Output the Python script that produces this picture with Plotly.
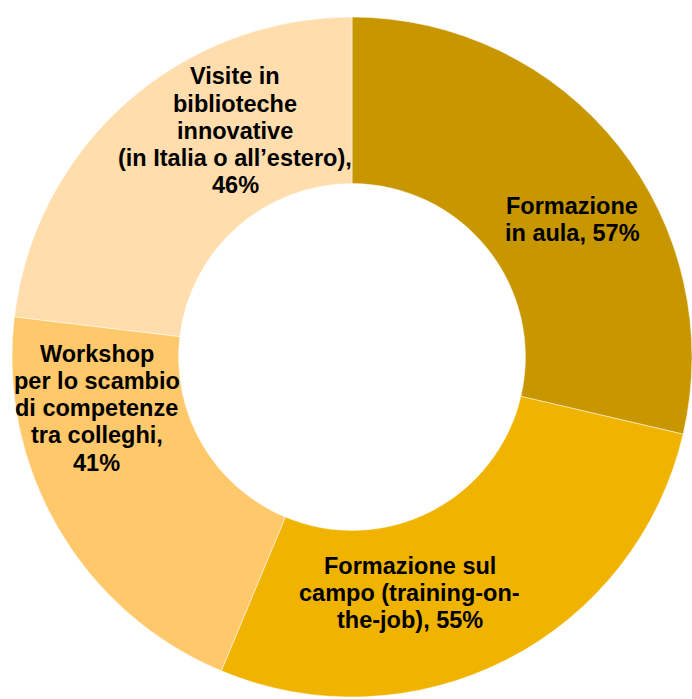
import plotly.graph_objects as go

# Training activities and share of respondents (%)
categories = [
    "Formazione<br>in aula",
    "Formazione sul<br>campo (training-on-<br>the-job)",
    "Workshop<br>per lo scambio<br>di competenze<br>tra colleghi",
    "Visite in<br>biblioteche<br>innovative<br>(in Italia o all’estero)",
]
values = [57, 55, 41, 46]
value_on_new_line = [False, False, True, True]
colors = ["#C89700", "#F0B400", "#FEC86B", "#FFDDAC"]

W, H = 692, 699
# Donut placement in pixels
cx, cy, radius = 352, 357, 340

fig = go.Figure(
    go.Pie(
        labels=[c.replace("<br>", " ") for c in categories],
        values=values,
        sort=False,
        direction="clockwise",
        rotation=0,
        hole=0.51,
        marker=dict(colors=colors, line=dict(color="rgba(255,255,255,0.6)", width=0.8)),
        textinfo="none",
        hoverinfo="skip",
        showlegend=False,
        domain=dict(
            x=[(cx - radius) / W, min(1.0, (cx + radius) / W)],
            y=[1 - (cy + radius) / H, 1 - (cy - radius) / H],
        ),
    )
)

# Label block centres (pixels) and line pitch
label_pos = [(572, 219.5), (410, 593), (96.5, 408.2), (235, 130.8)]
line_pitch = 27.2

for cat, v, newline, (lx, ly) in zip(categories, values, value_on_new_line, label_pos):
    text = f"{cat},{'<br>' if newline else ' '}{v}%"
    lines = text.split("<br>")
    n = len(lines)
    for i, line in enumerate(lines):
        py = ly + (i - (n - 1) / 2) * line_pitch
        fig.add_annotation(
            x=lx / W,
            y=1 - py / H,
            xref="paper",
            yref="paper",
            text=f"<b>{line}</b>",
            showarrow=False,
            xanchor="center",
            yanchor="middle",
            font=dict(family="Liberation Sans, Arial, sans-serif", size=23.5, color="#000000"),
        )

fig.update_layout(
    width=W,
    height=H,
    margin=dict(l=0, r=0, t=0, b=0),
    paper_bgcolor="white",
    plot_bgcolor="white",
)

fig.write_html("out.html")
